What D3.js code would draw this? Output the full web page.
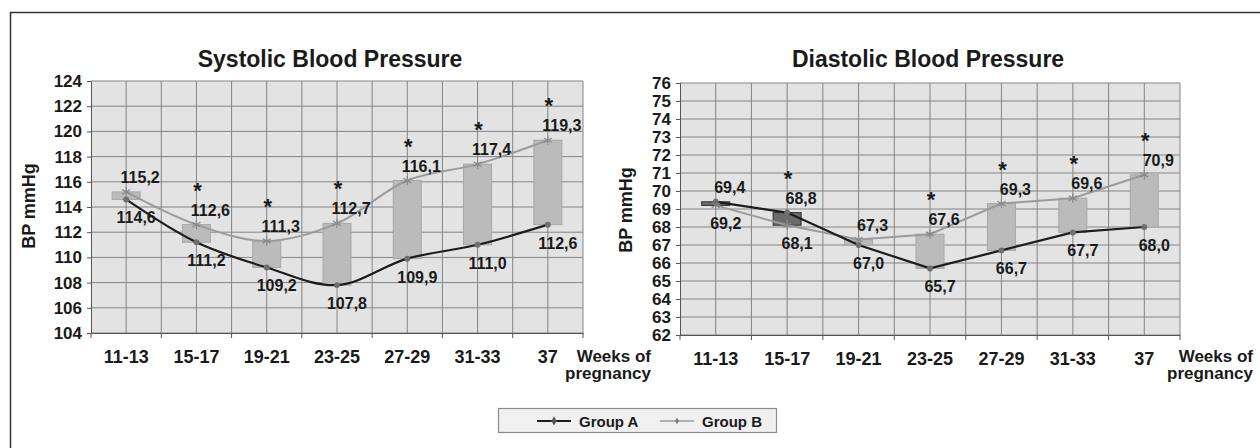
<!DOCTYPE html>
<html>
<head>
<meta charset="utf-8">
<script src="https://cdn.jsdelivr.net/npm/d3@7"></script>
<style>
  body { margin: 0; background: #fff; }
  svg { display: block; font-family: "Liberation Sans", Arial, Helvetica, sans-serif; }
</style>
</head>
<body>
<div id="chart"></div>
<script>
// categories (weeks of pregnancy)
const weeks = ["11-13", "15-17", "19-21", "23-25", "27-29", "31-33", "37"];

// systolic values
const sysGroupA = [114.6, 111.2, 109.2, 107.8, 109.9, 111.0, 112.6];
const sysGroupB = [115.2, 112.6, 111.3, 112.7, 116.1, 117.4, 119.3];
const sysSignif = [false, true, true, true, true, true, true];
const sysTicks = [104, 106, 108, 110, 112, 114, 116, 118, 120, 122, 124];

// diastolic values
const diaGroupA = [69.4, 68.8, 67.0, 65.7, 66.7, 67.7, 68.0];
const diaGroupB = [69.2, 68.1, 67.3, 67.6, 69.3, 69.6, 70.9];
const diaSignif = [false, true, false, true, true, true, true];
const diaTicks = [62, 63, 64, 65, 66, 67, 68, 69, 70, 71, 72, 73, 74, 75, 76];

const W = 1260, H = 448;
const fmt = v => v.toFixed(1).replace(".", ",");

const svg = d3.select("#chart").append("svg")
  .attr("width", W).attr("height", H);

// outer frame
svg.append("rect")
  .attr("x", 10.5).attr("y", 12.5)
  .attr("width", W).attr("height", H)
  .attr("fill", "none").attr("stroke", "#333").attr("stroke-width", 1.5);

function drawPanel(opt) {
  const x = d3.scaleBand().domain(weeks).range([opt.left, opt.right]);
  const y = d3.scaleLinear().domain(d3.extent(opt.ticks)).range([opt.bottom, opt.top]);
  const g = svg.append("g");
  const bw = x.bandwidth();

  // plot background
  g.append("rect")
    .attr("x", opt.left).attr("y", opt.top)
    .attr("width", opt.right - opt.left).attr("height", opt.bottom - opt.top)
    .attr("fill", "#e3e3e3");

  // horizontal grid
  g.selectAll(".hg").data(opt.ticks).enter().append("line")
    .attr("x1", opt.left).attr("x2", opt.right)
    .attr("y1", d => y(d)).attr("y2", d => y(d))
    .attr("stroke", "#858585").attr("stroke-width", 1);

  // vertical grid : band edges and centres
  const vlines = [];
  weeks.forEach(w => { vlines.push(x(w) + bw); vlines.push(x(w) + bw / 2); });
  g.selectAll(".vg").data(vlines).enter().append("line")
    .attr("x1", d => d).attr("x2", d => d)
    .attr("y1", opt.top).attr("y2", opt.bottom)
    .attr("stroke", "#858585").attr("stroke-width", 1);

  const rows = weeks.map((w, i) => ({
    w: w, a: opt.a[i], b: opt.b[i], sig: opt.sig[i],
    cx: x(w) + bw / 2
  }));

  // up-down bars between group A and group B
  const barW = 28;
  g.selectAll(".bar").data(rows).enter().append("rect")
    .attr("x", d => d.cx - barW / 2)
    .attr("y", d => y(Math.max(d.a, d.b)))
    .attr("width", barW)
    .attr("height", d => Math.abs(y(d.a) - y(d.b)))
    .attr("fill", d => d.b >= d.a ? "#bbbbbb" : "#6b6b6b")
    .attr("stroke", d => d.b >= d.a ? "#a7a7a7" : "#2e2e2e")
    .attr("stroke-width", 1);

  const line = d3.line().curve(opt.curve).x(d => d[0]).y(d => y(d[1]));

  // group B line (grey)
  g.append("path")
    .attr("d", line(rows.map(d => [d.cx, d.b])))
    .attr("fill", "none").attr("stroke", "#9b9b9b").attr("stroke-width", 2);
  // group A line (black)
  g.append("path")
    .attr("d", line(rows.map(d => [d.cx, d.a])))
    .attr("fill", "none").attr("stroke", "#1c1c1c").attr("stroke-width", 2.2);

  const star = d3.symbolAsterisk || d3.symbolTimes;
  g.selectAll(".mb").data(rows).enter().append("path")
    .attr("transform", d => "translate(" + d.cx + "," + y(d.b) + ")")
    .attr("d", d3.symbol().type(star).size(60))
    .attr("fill", "none").attr("stroke", "#888").attr("stroke-width", 1.2);
  g.selectAll(".ma").data(rows).enter().append("path")
    .attr("transform", d => "translate(" + d.cx + "," + y(d.a) + ")")
    .attr("d", d3.symbol().type(d3.symbolCircle).size(28))
    .attr("fill", "#6f6f6f");

  // value labels : higher value above, lower value below
  g.selectAll(".lhi").data(rows).enter().append("text")
    .attr("x", d => d.cx + 14)
    .attr("y", d => y(Math.max(d.a, d.b)) - 9)
    .attr("text-anchor", "middle")
    .attr("font-size", 16).attr("font-weight", "bold").attr("fill", "#1a1a1a")
    .text(d => fmt(Math.max(d.a, d.b)));
  g.selectAll(".llo").data(rows).enter().append("text")
    .attr("x", d => d.cx + 10)
    .attr("y", d => y(Math.min(d.a, d.b)) + 24)
    .attr("text-anchor", "middle")
    .attr("font-size", 16).attr("font-weight", "bold").attr("fill", "#1a1a1a")
    .text(d => fmt(Math.min(d.a, d.b)));

  // significance stars
  g.selectAll(".sig").data(rows.filter(d => d.sig)).enter().append("text")
    .attr("x", d => d.cx + 1)
    .attr("y", d => y(Math.max(d.a, d.b)) - 9 - 18)
    .attr("text-anchor", "middle")
    .attr("font-size", 22).attr("font-weight", "bold").attr("fill", "#1a1a1a")
    .text("*");

  // y axis
  const ya = g.append("g")
    .attr("transform", "translate(" + opt.left + ",0)")
    .call(d3.axisLeft(y).tickValues(opt.ticks).tickSize(4).tickPadding(5));
  ya.select(".domain").attr("stroke", "#555");
  ya.selectAll(".tick line").attr("stroke", "#555");
  ya.selectAll("text").attr("font-size", 17).attr("font-weight", "bold")
    .attr("fill", "#1a1a1a").style("font-family", "inherit");

  // x axis
  const xa = g.append("g")
    .attr("transform", "translate(0," + opt.bottom + ")")
    .call(d3.axisBottom(x).tickSize(0).tickPadding(17));
  xa.select(".domain").attr("stroke", "#555");
  xa.selectAll("text").attr("font-size", 18).attr("font-weight", "bold")
    .attr("fill", "#1a1a1a").style("font-family", "inherit");
  xa.selectAll(".edge").data(weeks).enter().append("line")
    .attr("x1", d => x(d) + bw).attr("x2", d => x(d) + bw)
    .attr("y1", 0).attr("y2", 5)
    .attr("stroke", "#555");
  xa.append("line")
    .attr("x1", opt.left).attr("x2", opt.left).attr("y1", 0).attr("y2", 5)
    .attr("stroke", "#555");

  // titles
  g.append("text")
    .attr("x", opt.titleX).attr("y", 67)
    .attr("text-anchor", "middle")
    .attr("font-size", 23).attr("font-weight", "bold").attr("fill", "#1a1a1a")
    .text(opt.title);

  g.append("text")
    .attr("transform", "translate(" + opt.yTitleX + "," + opt.yTitleY + ") rotate(-90)")
    .attr("text-anchor", "middle")
    .attr("font-size", 18).attr("font-weight", "bold").attr("fill", "#1a1a1a")
    .text("BP mmHg");

  const wk = g.append("text")
    .attr("text-anchor", "end")
    .attr("font-size", 17).attr("font-weight", "bold").attr("fill", "#1a1a1a");
  wk.append("tspan").attr("x", opt.weeksX).attr("y", 362).text("Weeks of");
  wk.append("tspan").attr("x", opt.weeksX).attr("y", 379).text("pregnancy");
}

drawPanel({
  left: 91, right: 583, top: 81, bottom: 333,
  ticks: sysTicks, a: sysGroupA, b: sysGroupB, sig: sysSignif,
  curve: d3.curveCatmullRom.alpha(0.5),
  title: "Systolic Blood Pressure", titleX: 330,
  yTitleX: 35, yTitleY: 206, weeksX: 651
});

drawPanel({
  left: 680, right: 1180, top: 83, bottom: 335,
  ticks: diaTicks, a: diaGroupA, b: diaGroupB, sig: diaSignif,
  curve: d3.curveLinear,
  title: "Diastolic Blood Pressure", titleX: 928,
  yTitleX: 632, yTitleY: 210, weeksX: 1253
});

// legend
const lg = svg.append("g");
lg.append("rect")
  .attr("x", 498.5).attr("y", 408.5).attr("width", 278).attr("height", 24)
  .attr("fill", "#f0f0f0").attr("stroke", "#8a8a8a").attr("stroke-width", 1.2);
const legendItems = [
  { name: "Group A", color: "#1c1c1c", x: 537, w: 2, size: 24, mark: "#555" },
  { name: "Group B", color: "#9b9b9b", x: 660, w: 1.5, size: 12, mark: "#777" }
];
legendItems.forEach(it => {
  lg.append("line")
    .attr("x1", it.x).attr("x2", it.x + 34).attr("y1", 421).attr("y2", 421)
    .attr("stroke", it.color).attr("stroke-width", it.w);
  lg.append("path")
    .attr("transform", "translate(" + (it.x + 17) + ",421)")
    .attr("d", d3.symbol().type(d3.symbolDiamond).size(it.size))
    .attr("fill", it.mark);
  lg.append("text")
    .attr("x", it.x + 42).attr("y", 426.5)
    .attr("font-size", 15).attr("font-weight", "bold").attr("fill", "#1a1a1a")
    .text(it.name);
});
</script>
</body>
</html>
